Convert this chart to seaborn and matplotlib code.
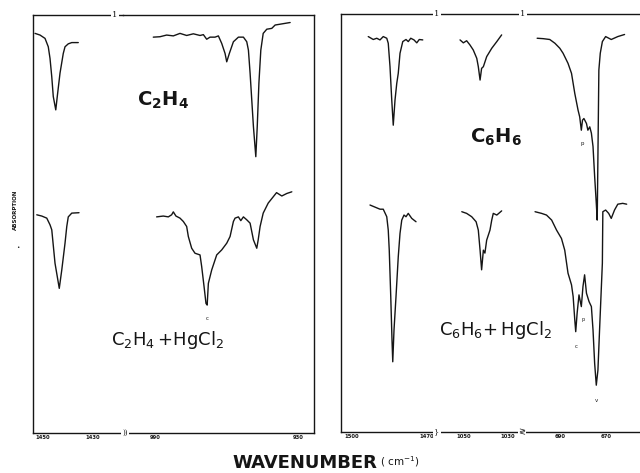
import matplotlib
matplotlib.use("Agg")
import matplotlib.pyplot as plt
import seaborn as sns

# wavenumber (cm-1) and trace height (% of panel height)
c2h4_1440_wn = [1453.2, 1451.2, 1449.2, 1447.9, 1447.2, 1446.5, 1445.9, 1444.9, 1444.3, 1443.2,
                1441.9, 1441.2, 1439.9, 1438.5, 1435.9]
c2h4_1440_y = [95.6, 95.2, 94.4, 92.4, 89.6, 85.2, 80.5, 77.3, 80.5, 86.1, 90.8, 92.4, 93.1, 93.4, 93.4]

c2h4_950_wn = [990.7, 987.9, 985.1, 982.3, 979.5, 976.7, 973.9, 971.1, 969.7, 968.3,
               966.9, 964.8, 963.4, 962.0, 960.6, 959.9, 958.8, 957.1, 955.0, 952.9,
               951.5, 950.8, 950.1, 949.4, 948.7, 947.7, 947.1, 946.4, 945.6, 944.6,
               943.1, 941.0, 939.6, 937.5, 935.4, 933.3]
c2h4_950_y = [94.7, 94.8, 95.2, 95.0, 95.6, 95.1, 95.5, 95.1, 95.3, 94.2,
              94.7, 94.7, 95.0, 93.2, 90.8, 88.8, 90.8, 93.6, 94.7, 94.7,
              93.6, 91.6, 86.1, 79.7, 73.3, 66.1, 73.3, 83.7, 91.6, 95.6,
              96.6, 96.8, 97.6, 97.8, 98.0, 98.2]

hg_c2h4_1440_wn = [1452.5, 1450.5, 1448.5, 1447.2, 1446.5, 1445.2, 1443.5, 1442.5, 1441.2, 1440.5,
                   1439.9, 1438.5, 1435.6]
hg_c2h4_1440_y = [52.2, 51.9, 51.4, 49.8, 48.6, 40.6, 34.6, 39.0, 45.4, 49.4, 51.7, 52.6, 52.7]

hg_c2h4_950_wn = [989.3, 986.5, 984.4, 983.0, 982.3, 981.2, 979.5, 978.1, 976.7, 976.0,
                  974.6, 973.2, 971.1, 970.4, 969.4, 968.6, 968.1, 967.6, 966.2, 964.1,
                  962.0, 959.9, 958.5, 957.1, 956.4, 955.0, 954.0, 952.9, 951.5, 950.1,
                  948.7, 947.3, 946.7, 945.9, 944.6, 942.5, 940.4, 939.0, 936.8, 934.7,
                  932.6]
hg_c2h4_950_y = [51.7, 51.9, 51.7, 52.2, 52.9, 51.9, 51.4, 50.6, 49.4, 47.0,
                 44.2, 43.0, 42.6, 39.8, 35.0, 31.0, 30.6, 35.8, 39.0, 42.6,
                 43.8, 45.4, 47.0, 50.6, 51.4, 51.7, 50.8, 51.7, 51.0, 50.2,
                 46.2, 44.2, 46.2, 49.4, 52.6, 55.0, 56.5, 57.5, 56.7, 57.3,
                 57.7]

c6h6_1480_wn = [1493.5, 1491.5, 1490.1, 1488.8, 1487.5, 1486.1, 1485.5, 1484.8, 1484.1, 1483.5,
                1482.8, 1482.1, 1481.5, 1480.8, 1479.7, 1478.4, 1477.5, 1476.5, 1475.2, 1474.1,
                1473.1, 1471.7]
c6h6_1480_y = [94.6, 93.9, 94.2, 93.8, 94.6, 94.2, 93.0, 87.4, 79.4, 73.4,
               79.4, 83.4, 85.8, 90.6, 93.4, 93.9, 93.4, 94.2, 93.8, 93.1,
               93.9, 93.8]

c6h6_1040_wn = [1051.8, 1050.3, 1048.8, 1047.3, 1045.8, 1044.2, 1043.5, 1042.7, 1042.0, 1041.2,
                1039.7, 1037.4, 1035.1, 1032.9]
c6h6_1040_y = [93.8, 93.1, 93.6, 92.6, 91.4, 89.4, 87.4, 84.2, 87.0, 87.4, 89.8, 91.8, 93.4, 95.0]

c6h6_675_wn = [699.7, 697.1, 694.3, 692.1, 690.0, 688.6, 686.5, 685.0, 683.6, 682.2,
               681.5, 680.8, 680.3, 679.7, 678.6, 678.0, 677.2, 676.5, 675.8, 675.1,
               674.4, 674.0, 673.3, 672.7, 671.8, 670.4, 668.0, 665.2, 662.3]
c6h6_675_y = [94.2, 94.1, 93.9, 93.0, 91.8, 90.6, 88.2, 85.8, 81.0, 77.0,
              75.4, 72.2, 74.6, 75.0, 73.8, 72.2, 73.0, 71.5, 68.3, 61.1,
              54.7, 50.7, 86.6, 90.6, 93.4, 94.6, 93.9, 94.6, 95.1]

hg_c6h6_1480_wn = [1492.8, 1490.8, 1488.8, 1487.5, 1486.1, 1485.5, 1485.1, 1484.5, 1484.0, 1483.7,
                   1483.2, 1482.4, 1481.5, 1480.8, 1480.1, 1479.2, 1478.4, 1477.5, 1476.1, 1474.4]
hg_c6h6_1480_y = [54.3, 53.8, 53.3, 53.3, 51.5, 48.3, 43.5, 32.4, 22.0, 16.8,
                  24.4, 32.4, 41.9, 47.5, 50.7, 51.9, 51.5, 52.3, 51.1, 50.3]

hg_c6h6_1040_wn = [1051.0, 1048.8, 1046.5, 1044.5, 1043.5, 1042.7, 1042.0, 1041.2, 1040.5, 1039.7,
                   1038.2, 1037.4, 1036.7, 1035.1, 1032.9]
hg_c6h6_1040_y = [52.7, 52.3, 51.5, 50.3, 48.3, 43.5, 38.8, 43.5, 42.8, 45.9,
                  48.3, 50.7, 52.3, 51.9, 52.9]

hg_c6h6_675_wn = [700.6, 697.8, 695.7, 693.5, 691.4, 689.3, 687.9, 686.5, 685.0, 684.3,
                  683.6, 683.2, 682.6, 681.8, 680.8, 680.1, 679.4, 678.6, 677.5, 676.5,
                  675.8, 675.1, 674.4, 673.7, 673.0, 671.8, 671.6, 670.4, 669.1, 668.0,
                  666.6, 665.2, 663.1, 661.4]
hg_c6h6_675_y = [52.7, 52.3, 51.9, 50.7, 48.3, 46.3, 43.5, 38.0, 35.2, 32.4,
                 26.8, 24.0, 28.4, 32.8, 30.0, 34.8, 37.6, 33.2, 31.2, 30.0,
                 24.4, 16.4, 11.2, 14.8, 24.4, 40.4, 52.7, 53.1, 52.3, 51.1,
                 53.1, 54.5, 54.7, 54.5]

sns.set_style("white")
plt.rcParams["font.family"] = ["DejaVu Sans"]
plt.rcParams["mathtext.fontset"] = "dejavusans"

fig = plt.figure(figsize=(6.4, 4.73), dpi=100)
INK = "#151515"


def segment(rect, xlim, ticks, labels, left=False, right=False):
    ax = fig.add_axes(rect)
    ax.set_facecolor("none")
    ax.set_xlim(*xlim)
    ax.set_ylim(0, 100)
    ax.set_xticks(ticks, labels=labels)
    ax.set_yticks([])
    ax.spines["left"].set_visible(left)
    ax.spines["right"].set_visible(right)
    for s in ax.spines.values():
        s.set_color(INK)
        s.set_linewidth(1.0)
    ax.tick_params(axis="x", direction="in", length=3, width=0.8, pad=1.5,
                   labelsize=3.8, colors=INK)
    for t in ax.get_xticklabels():
        t.set_fontweight("bold")
    return ax


def trace(ax, wn, y):
    sns.lineplot(x=wn, y=y, ax=ax, sort=False, estimator=None, color=INK, lw=1.0)
    ax.set_xlabel("")
    ax.set_ylabel("")


# left panel (C2H4)
axA = segment([0.0516, 0.0846, 0.1406, 0.8837], (1454, 1418),
              [1450, 1440, 1430], ["1450", "", "1430"], left=True)
axB = segment([0.1922, 0.0846, 0.2984, 0.8837], (1003.4, 923.3),
              [990, 980, 970, 960, 950, 940, 930], ["990", "", "", "", "", "", "930"], right=True)
trace(axA, c2h4_1440_wn, c2h4_1440_y)
trace(axA, hg_c2h4_1440_wn, hg_c2h4_1440_y)
trace(axB, c2h4_950_wn, c2h4_950_y)
trace(axB, hg_c2h4_950_wn, hg_c2h4_950_y)
for ax, xl in ((axA, (1454, 1418)), (axB, (1003.4, 923.3))):
    ax.set_xlim(*xl)
    ax.set_ylim(0, 100)
axB.text(968.2, 27.5, "c", fontsize=4, ha="center", va="center", color=INK)

# right panel (C6H6)
ax1 = segment([0.5328, 0.0867, 0.1516, 0.8837], (1504.4, 1465.6),
              [1500, 1490, 1480, 1470], ["1500", "", "", "1470"], left=True)
ax2 = segment([0.6844, 0.0867, 0.1297, 0.8837], (1061.8, 1024.1),
              [1050, 1040, 1030], ["1050", "", "1030"])
ax3 = segment([0.8141, 0.0867, 0.1859, 0.8837], (706.6, 655.7),
              [690, 680, 670], ["690", "", "670"])
trace(ax1, c6h6_1480_wn, c6h6_1480_y)
trace(ax1, hg_c6h6_1480_wn, hg_c6h6_1480_y)
trace(ax2, c6h6_1040_wn, c6h6_1040_y)
trace(ax2, hg_c6h6_1040_wn, hg_c6h6_1040_y)
trace(ax3, c6h6_675_wn, c6h6_675_y)
trace(ax3, hg_c6h6_675_wn, hg_c6h6_675_y)
for ax, xl in ((ax1, (1504.4, 1465.6)), (ax2, (1061.8, 1024.1)), (ax3, (706.6, 655.7))):
    ax.set_xlim(*xl)
    ax.set_ylim(0, 100)
ax3.text(680.6, 69.0, "p", fontsize=4, ha="center", va="center", color=INK)
ax3.text(682.8, 20.5, "c", fontsize=4, ha="center", va="center", color=INK)
ax3.text(680.2, 27.0, "p", fontsize=3.5, ha="center", va="center", color=INK)
ax3.text(674.3, 7.5, "v", fontsize=4, ha="center", va="center", color=INK)

# axis break marks
box = dict(facecolor="white", edgecolor="none", pad=0.6)
brk = dict(ha="center", va="center", color=INK, family=["DejaVu Serif", "DejaVu Sans"], bbox=box)
fig.text(0.1797, 0.9683, "1", fontsize=6, **brk)
fig.text(0.6828, 0.9704, "1", fontsize=6, **brk)
fig.text(0.8172, 0.9704, "1", fontsize=6, **brk)
fig.text(0.1953, 0.0846, "))", fontsize=5, **brk)
fig.text(0.6828, 0.0867, "}", fontsize=6, **brk)
fig.text(0.8156, 0.0867, "\u2277", fontsize=6, ha="center", va="center", color=INK,
         family=["DejaVu Sans", "Noto Sans CJK SC"], bbox=box)

# sample labels
fig.text(0.2547, 0.7886, r"$\mathbf{C_2H_4}$", fontsize=14, ha="center", va="center", color=INK)
fig.text(0.2609, 0.2812, r"$\mathrm{C_2H_4\,{+}HgCl_2}$", fontsize=13, ha="center", va="center", color=INK)
fig.text(0.7750, 0.7104, r"$\mathbf{C_6H_6}$", fontsize=14, ha="center", va="center", color=INK)
fig.text(0.7734, 0.3023, r"$\mathrm{C_6H_6{+}\,HgCl_2}$", fontsize=13, ha="center", va="center", color=INK)

# axis titles
fig.text(0.0234, 0.556, "ABSORPTION", fontsize=4, fontweight="bold", rotation=90,
         ha="center", va="center", color=INK)
fig.text(0.028, 0.476, "\u2022", fontsize=4, ha="center", va="center", color=INK)
fig.text(0.3625, 0.021, "WAVENUMBER", fontsize=13, fontweight="bold", ha="left", va="center", color=INK)
fig.text(0.593, 0.025, r"( cm$^{-1}$)", fontsize=7.5, ha="left", va="center", color=INK)

fig.savefig("out.png", dpi=100)
